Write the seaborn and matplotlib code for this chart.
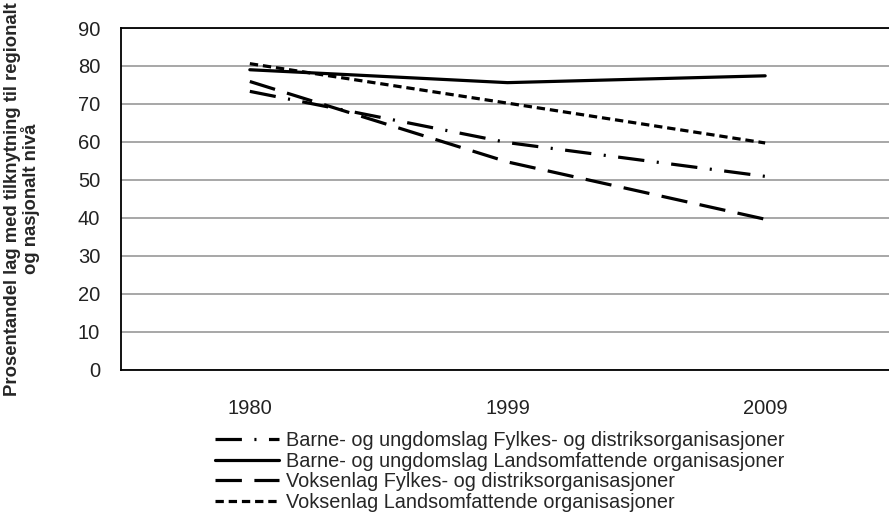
import pandas as pd
import numpy as np
import matplotlib.pyplot as plt
import seaborn as sns

years = ["1980", "1999", "2009"]
series_names = [
    "Barne- og ungdomslag Fylkes- og distriksorganisasjoner",
    "Barne- og ungdomslag Landsomfattende organisasjoner",
    "Voksenlag Fylkes- og distriksorganisasjoner",
    "Voksenlag Landsomfattende organisasjoner",
]
barne_fylke = [73.3, 59.8, 50.9]
barne_lands = [79.0, 75.6, 77.4]
voksen_fylke = [75.9, 54.7, 39.6]
voksen_lands = [80.6, 70.2, 59.7]
y_ticks = list(range(0, 100, 10))

rows = []
for name, vals in zip(series_names, [barne_fylke, barne_lands, voksen_fylke, voksen_lands]):
    for i, (yr, v) in enumerate(zip(years, vals)):
        rows.append({"pos": i, "year": yr, "serie": name, "verdi": v})
df = pd.DataFrame(rows)

sns.set_style("white")
plt.rcParams['font.family'] = ['Liberation Sans', 'DejaVu Sans']
plt.rcParams['lines.scale_dashes'] = False

fig = plt.figure(figsize=(8.89, 5.14), dpi=100)
ax = fig.add_axes([121 / 889, 1 - 369.5 / 514, 773 / 889, 341.5 / 514])

dash_map = {
    series_names[0]: (19, 9, 1.5, 9),
    series_names[1]: "",
    series_names[2]: (19, 9),
    series_names[3]: (6, 3.5),
}
sns.lineplot(data=df, x="pos", y="verdi", hue="serie", style="serie",
             palette=["black"] * 4, dashes=dash_map, linewidth=2.3,
             hue_order=series_names, style_order=series_names, ax=ax, legend=True)

ax.set_ylim(0, 90)
ax.set_xlim(-0.5, 2.5)
ax.set_yticks(y_ticks)
ax.set_xticks(range(len(years)))
ax.set_xticklabels(years)
ax.set_xticks([-0.5, 0.5, 1.5, 2.5], minor=True)
ax.tick_params(axis='x', which='major', length=0, pad=21, labelsize=14.5, colors='#222222')
ax.tick_params(axis='x', which='minor', length=5, width=1, color='#888888', direction='out')
ax.tick_params(axis='y', length=5, width=1, color='#888888', direction='out', labelsize=14.5,
               labelcolor='#222222', pad=10)
ax.yaxis.grid(True, color='#a0a0a0', linewidth=1.3)
ax.set_axisbelow(True)
for side in ['left', 'bottom']:
    ax.spines[side].set_color('black')
    ax.spines[side].set_linewidth(1.3)
ax.spines['top'].set_color('black')
ax.spines['top'].set_linewidth(1.3)
ax.spines['right'].set_visible(False)

ax.set_xlabel("")
ax.set_ylabel("Prosentandel lag med tilknytning til regionalt\nog nasjonalt nivå",
              fontsize=13.3, fontweight='bold', labelpad=27, linespacing=1.0)

handles, labels = ax.get_legend_handles_labels()
ax.get_legend().remove()
fig.legend(handles, labels, loc='upper center', bbox_to_anchor=(500 / 889, 1 - 431 / 514),
           frameon=False, fontsize=14.3, handlelength=3.2, handletextpad=0.35,
           labelspacing=0.08, borderaxespad=0, borderpad=0)

plt.savefig("out.png", dpi=100)
plt.close()
